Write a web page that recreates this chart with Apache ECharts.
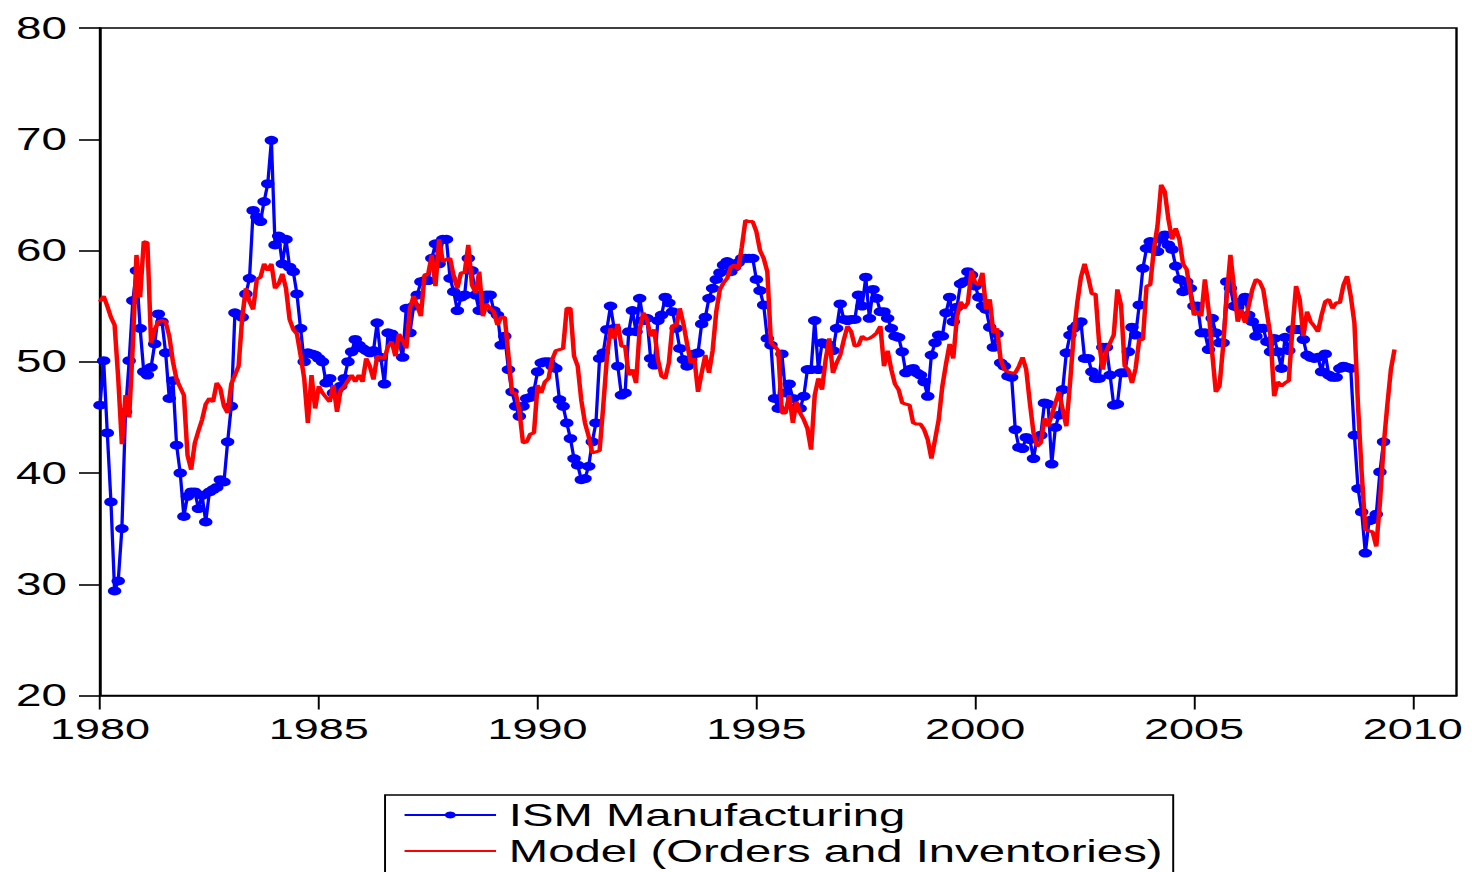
<!DOCTYPE html>
<html>
<head>
<meta charset="utf-8">
<script src="https://cdn.jsdelivr.net/npm/echarts@6/dist/echarts.min.js"></script>
<style>
  html, body { margin: 0; padding: 0; background: #fff; overflow: hidden; }
  /* The graph is drawn at 2/3 width and stretched horizontally, the way the original graph export is */
  #chart {
    position: absolute; left: 0; top: 0;
    width: 981.333px; height: 872px;
    transform: scaleX(1.5); transform-origin: 0 0;
  }
</style>
</head>
<body>
<div id="chart"></div>
<script>
// ---- data -------------------------------------------------------------
const seriesNames = ['ISM Manufacturing', 'Model (Orders and Inventories)'];
const xTickLabels = [1980, 1985, 1990, 1995, 2000, 2005, 2010];
const yTicks = [20, 30, 40, 50, 60, 70, 80];
const startYear = 1980;   // both series are monthly, starting January 1980

// ISM Manufacturing index, monthly
const ism1980s = [
  46.1, 50.1, 43.6, 37.4, 29.4, 30.3, 35.0, 45.5, 50.1, 55.5, 58.2, 53.0,
  49.1, 48.8, 49.5, 51.6, 54.3, 53.6, 50.8, 46.7, 48.3, 42.5, 40.0, 36.1,
  37.9, 38.3, 38.3, 36.8, 38.0, 35.6, 38.3, 38.5, 38.7, 39.4, 39.2, 42.8,
  46.0, 54.4, 54.2, 54.0, 56.1, 57.5, 63.6, 63.0, 62.6, 64.4, 66.0, 69.9,
  60.5, 61.3, 58.8, 61.0, 58.5, 58.1, 56.1, 53.0, 50.0, 50.8, 50.7, 50.6,
  50.3, 50.0, 48.1, 48.5, 47.2, 47.5, 47.8, 48.5, 50.0, 50.9, 52.0, 51.5,
  51.2, 51.0, 50.8, 51.0, 53.5, 50.4, 48.0, 52.6, 52.5, 52.0, 51.8, 50.4,
  54.8, 52.6, 55.0, 56.0, 57.2, 57.3, 57.3, 59.3, 60.6, 58.8, 61.0, 61.0,
  57.5, 56.3, 54.6, 55.8, 56.0, 59.3, 58.2, 56.0, 54.6, 55.5, 56.0, 56.0,
  54.6, 54.2, 51.5, 52.3, 49.3, 47.3, 46.0, 45.1, 46.0, 46.7, 46.8, 47.4
];
const ism1990s = [
  49.1, 49.9, 50.0, 50.0, 49.6, 49.4, 46.6, 46.0, 44.5, 43.1, 41.3, 40.7,
  39.4, 39.5, 40.6, 42.8, 44.5, 50.3, 50.8, 52.9, 55.0, 53.0, 49.6, 47.0,
  47.2, 52.7, 54.6, 52.7, 55.7, 53.7, 53.9, 50.3, 49.7, 53.7, 54.2, 55.8,
  55.3, 54.5, 53.0, 51.2, 50.2, 49.6, 50.2, 50.7, 50.8, 53.4, 54.0, 55.7,
  56.6, 57.4, 58.0, 58.7, 59.0, 58.1, 58.5, 58.9, 59.3, 59.3, 59.3, 59.3,
  57.4, 56.4, 55.1, 52.1, 51.5, 46.7, 45.8, 50.7, 47.2, 48.0, 46.7, 45.9,
  45.8, 46.9, 49.3, 49.3, 53.7, 49.3, 51.7, 51.6, 51.5, 51.0, 53.0, 55.2,
  53.8, 53.7, 53.8, 53.8, 56.0, 55.0, 57.6, 53.9, 56.5, 55.7, 54.5, 54.5,
  53.9, 53.0, 52.3, 52.2, 50.9, 49.0, 49.3, 49.4, 49.0, 48.8, 48.2, 46.9,
  50.6, 51.7, 52.4, 52.3, 54.4, 55.8, 53.6, 54.9, 57.0, 57.2, 58.1, 57.8
];
const ism2000s = [
  56.8, 55.8, 55.0, 54.7, 53.1, 51.3, 52.5, 49.9, 49.6, 48.7, 48.6, 43.9,
  42.3, 42.2, 43.2, 43.0, 41.3, 43.2, 43.4, 46.3, 46.2, 40.8, 44.1, 45.2,
  47.5, 50.8, 52.4, 53.0, 53.3, 53.6, 50.3, 50.3, 49.1, 48.5, 48.5, 51.3,
  51.3, 48.8, 46.1, 46.2, 49.0, 49.0, 50.9, 53.1, 52.4, 55.1, 58.4, 60.2,
  60.8, 60.1, 59.9, 61.0, 61.4, 60.5, 60.1, 58.6, 57.4, 56.3, 57.2, 56.6,
  55.0, 55.0, 52.6, 52.6, 51.1, 53.9, 52.6, 51.7, 51.7, 57.2, 56.6, 55.0,
  54.9, 55.4, 55.8, 54.2, 53.6, 52.3, 53.0, 53.0, 51.8, 50.9, 52.1, 50.9,
  49.4, 52.2, 51.0, 52.9, 52.9, 52.9, 52.0, 50.6, 50.4, 50.3, 50.4, 49.1,
  50.7, 48.8, 48.6, 48.6, 49.4, 49.6, 49.5, 49.4, 43.4, 38.6, 36.5, 32.8,
  35.7, 35.8, 36.3, 40.1, 42.8
];

// Model fit from new orders and inventories, monthly
const model1980s = [
  55.4, 55.9, 55.0, 54.0, 53.3, 48.5, 42.6, 47.0, 45.0, 51.5, 59.6, 55.8,
  60.8, 60.7, 51.7, 52.9, 53.6, 53.7, 53.6, 52.3, 50.0, 48.4, 47.7, 47.0,
  41.6, 40.3, 42.7, 43.8, 44.8, 46.2, 46.7, 46.4, 48.1, 47.6, 46.0, 45.4,
  48.0, 48.8, 49.6, 54.0, 56.6, 55.4, 54.7, 57.4, 57.6, 58.8, 58.2, 58.8,
  56.6, 57.0, 57.9, 56.6, 53.8, 52.9, 52.5, 50.6, 48.5, 44.5, 48.8, 45.8,
  47.8, 47.2, 46.8, 46.4, 47.9, 45.5, 47.5, 47.8, 48.3, 48.8, 48.2, 48.8,
  48.2, 50.3, 49.6, 48.4, 50.5, 50.4, 50.3, 51.4, 51.8, 50.5, 52.5, 51.9,
  51.2, 54.8, 55.9, 55.0, 54.1, 57.8, 57.9, 59.6, 56.8, 61.0, 59.0, 59.2,
  59.3, 57.7, 56.6, 58.0, 58.0, 60.5, 56.9, 56.2, 58.1, 54.1, 55.2, 54.8,
  54.5, 53.3, 54.0, 54.0, 50.6, 47.2, 47.2, 45.6, 42.7, 42.8, 43.5, 43.6
];
const model1990s = [
  47.9, 47.2, 48.2, 48.5, 50.2, 51.0, 51.1, 51.2, 54.8, 54.8, 50.5, 49.6,
  46.5, 44.5, 43.3, 41.8, 41.9, 42.0, 46.0, 50.3, 53.0, 52.1, 53.4, 51.4,
  51.4, 48.8, 49.3, 48.1, 52.9, 54.4, 53.8, 52.3, 52.9, 50.2, 48.7, 48.5,
  49.9, 53.3, 53.2, 54.8, 53.4, 51.6, 49.9, 50.3, 47.3, 49.0, 50.6, 49.0,
  51.0, 54.5, 56.5, 57.1, 57.5, 58.5, 58.7, 58.3, 60.3, 62.7, 62.6, 62.6,
  61.7, 60.0, 59.3, 58.1, 51.7, 51.4, 51.0, 45.4, 45.4, 47.0, 44.5, 46.4,
  45.4, 44.8, 44.0, 42.1, 47.0, 48.5, 47.5, 50.2, 52.1, 49.0, 49.9, 50.6,
  52.0, 53.2, 52.7, 51.4, 51.5, 52.3, 52.0, 52.1, 52.3, 52.6, 53.2, 49.6,
  51.0, 49.3, 48.0, 47.5, 46.3, 46.2, 46.1, 44.5, 44.4, 44.4, 43.9, 43.0,
  41.3, 43.0, 44.8, 47.8, 49.8, 51.6, 50.3, 54.0, 55.4, 54.8, 55.3, 58.2
];
const model2000s = [
  57.1, 56.9, 58.0, 54.7, 55.6, 52.6, 53.0, 50.2, 49.3, 49.1, 49.0, 49.0,
  49.6, 50.4, 49.3, 46.3, 43.6, 42.4, 42.7, 44.9, 44.2, 45.2, 46.3, 47.3,
  45.7, 44.2, 48.0, 52.3, 55.3, 57.6, 58.8, 57.6, 56.1, 56.1, 51.7, 49.3,
  51.0, 51.7, 52.4, 56.5, 55.1, 49.6, 49.3, 48.1, 49.4, 52.0, 52.0, 56.8,
  56.9, 60.1, 62.2, 65.9, 65.3, 62.8, 61.0, 62.0, 61.0, 58.8, 58.3, 56.3,
  54.2, 54.5, 54.1, 57.4, 54.7, 50.8, 47.3, 47.8, 51.4, 55.9, 59.6, 56.6,
  53.6, 54.7, 53.5, 55.0, 56.5, 57.4, 57.2, 56.5, 54.4, 52.3, 46.9, 48.2,
  47.8, 48.1, 48.3, 52.9, 56.8, 55.6, 52.3, 54.5, 53.6, 53.2, 52.7, 54.2,
  55.4, 55.6, 54.8, 55.3, 55.3, 56.9, 57.7, 55.9, 53.5, 46.0, 40.0, 34.9,
  34.8, 34.7, 33.4, 37.3, 42.4, 46.0, 49.3, 51.1
];

// ---- chart ------------------------------------------------------------
// monthly values -> [fractional year, value]
function monthly(values) {
  return values.map((v, i) => [startYear + i / 12, v]);
}
const ismData = monthly([...ism1980s, ...ism1990s, ...ism2000s]);
const modelData = monthly([...model1980s, ...model1990s, ...model2000s]);

const FONT = '"Liberation Sans", Arial, sans-serif';
const chart = echarts.init(document.getElementById('chart'), null, { renderer: 'svg' });

chart.setOption({
  animation: false,
  backgroundColor: '#ffffff',
  grid: {
    left: 66.67, right: 10, top: 28, bottom: 176.5,
    show: true, borderColor: '#000', borderWidth: 1.6, backgroundColor: 'transparent'
  },
  legend: {
    orient: 'vertical',
    left: 256.7, top: 795,
    // the legend frame runs past the bottom edge of the page
    height: 120,
    padding: [3, 7, 14, 12],
    itemWidth: 61, itemHeight: 9, itemGap: 2,
    borderColor: '#000', borderWidth: 1.3,
    textStyle: { fontFamily: FONT, fontSize: 31.5, color: '#000', lineHeight: 34, padding: [0, 0, 0, 3.5] },
    data: [
      { name: seriesNames[0] },
      // the model line has no markers, so its legend key is a plain line
      { name: seriesNames[1], itemStyle: { opacity: 0 } }
    ]
  },
  xAxis: {
    type: 'value',
    min: 1980, max: 2011,
    axisLine: { show: true, onZero: false, lineStyle: { color: '#000', width: 1.6 } },
    axisTick: { show: true, inside: false, length: 14, customValues: xTickLabels,
                lineStyle: { color: '#000', width: 1.3 } },
    axisLabel: { customValues: xTickLabels, formatter: v => String(v),
                 fontFamily: FONT, fontSize: 30, color: '#000', margin: 18 },
    splitLine: { show: false }
  },
  yAxis: {
    type: 'value',
    min: 20, max: 80, interval: 10,
    axisLine: { show: true, lineStyle: { color: '#000', width: 1.6 } },
    axisTick: { show: true, inside: false, length: 14, customValues: yTicks,
                lineStyle: { color: '#000', width: 1.6 } },
    axisLabel: { customValues: yTicks, fontFamily: FONT, fontSize: 30.5, color: '#000', margin: 22 },
    splitLine: { show: false }
  },
  series: [
    {
      name: seriesNames[0],
      type: 'line',
      data: ismData,
      symbol: 'circle', symbolSize: 9, showSymbol: true, showAllSymbol: true,
      itemStyle: { color: '#0000ff', borderWidth: 0 },
      lineStyle: { color: '#0000ff', width: 2.2 },
      z: 2
    },
    {
      name: seriesNames[1],
      type: 'line',
      data: modelData,
      symbol: 'none', showSymbol: false,
      itemStyle: { color: '#ff0000' },
      lineStyle: { color: '#ff0000', width: 3 },
      z: 3
    }
  ]
});
</script>
</body>
</html>
